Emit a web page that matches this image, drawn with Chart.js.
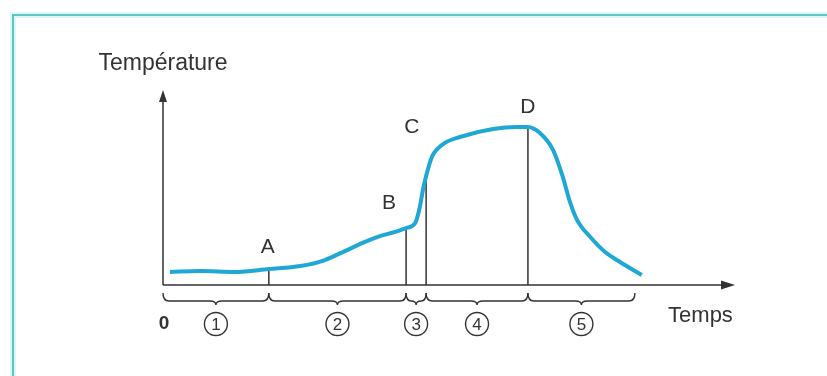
<!DOCTYPE html>
<html>
<head>
<meta charset="utf-8">
<script src="https://cdn.jsdelivr.net/npm/chart.js@4/dist/chart.umd.min.js"></script>
<style>
  html, body { margin: 0; padding: 0; background: #fff; }
  #wrap { width: 827px; height: 376px; }
</style>
</head>
<body>
<div id="wrap"><canvas id="chart" width="827" height="376"></canvas></div>
<script>
// curve (temps, température) in arbitrary units 0..100
const temps = [1.2, 6.5, 12.6, 18.5, 24.0, 28.3, 31.8, 34.8, 37.9, 40.6, 42.5, 44.1, 44.9, 45.5, 46.0,
  47.0, 49.0, 51.9, 57.7, 61.9, 63.8, 65.9, 68.2, 69.8, 71.2, 72.4, 74.7, 77.3, 79.9, 83.7]
const temperature = [6.7, 7.2, 6.7, 8.2, 9.7, 12.8, 17.4, 21.5, 25.1, 27.2, 29.2, 31.8, 40.0, 49.7, 55.9,
  65.6, 72.3, 75.9, 80.0, 81.0, 81.0, 77.9, 69.2, 56.4, 42.1, 33.3, 24.6, 16.9, 11.8, 5.1]

// points A B C D : vertical lines from the axis up to the curve
const pointNames = ['A', 'B', 'C', 'D']
const pointX = [18.5, 42.5, 46.0, 63.8]
const pointTop = [8.2, 29.2, 55.9, 81.0]
const nameX = [18.3, 39.5, 43.5, 63.8]
const nameY = [19.5, 42.0, 81.0, 91.3]

// phases under the time axis
const phaseBounds = [0, 18.5, 42.5, 46.0, 63.8, 82.5]
const phaseNames = ['1', '2', '3', '4', '5']

const ink = '#333333'
const font = '"Liberation Sans", Arial, sans-serif'

const datasets = [{
  data: temps.map((t, i) => ({x: t, y: temperature[i]})),
  borderColor: '#1fa8d4',
  borderWidth: 4,
  pointRadius: 0,
  cubicInterpolationMode: 'monotone'
}]
pointX.forEach((x, i) => {
  datasets.push({
    data: [{x: x, y: 0}, {x: x, y: pointTop[i]}],
    borderColor: ink,
    borderWidth: 1.5,
    pointRadius: 0
  })
})

function brace(ctx, x0, x1, top) {
  const r = Math.min(6, (x1 - x0) / 4)
  const xm = (x0 + x1) / 2
  const flat = top + 8, tip = top + 12
  ctx.beginPath()
  ctx.moveTo(x0, top)
  ctx.quadraticCurveTo(x0, flat, x0 + r, flat)
  ctx.lineTo(xm - r, flat)
  ctx.quadraticCurveTo(xm, flat, xm, tip)
  ctx.quadraticCurveTo(xm, flat, xm + r, flat)
  ctx.lineTo(x1 - r, flat)
  ctx.quadraticCurveTo(x1, flat, x1, top)
  ctx.stroke()
}

const decor = {
  id: 'decor',
  beforeDraw(chart) {
    const ctx = chart.ctx
    ctx.save()
    ctx.fillStyle = '#fff'
    ctx.fillRect(0, 0, chart.width, chart.height)
    // frame
    ctx.strokeStyle = '#dff6f6'
    ctx.lineWidth = 6
    ctx.beginPath()
    ctx.moveTo(13, chart.height); ctx.lineTo(13, 15); ctx.lineTo(chart.width, 15)
    ctx.stroke()
    ctx.strokeStyle = '#5fc4c4'
    ctx.lineWidth = 2
    ctx.stroke()
    ctx.restore()
  },
  afterDraw(chart) {
    const ctx = chart.ctx
    const xs = chart.scales.x, ys = chart.scales.y
    const x0 = xs.getPixelForValue(0), y0 = ys.getPixelForValue(0)
    const xEnd = xs.getPixelForValue(100), yEnd = ys.getPixelForValue(100)
    ctx.save()
    ctx.strokeStyle = ink
    ctx.fillStyle = ink
    ctx.lineWidth = 1.5
    // axes with arrows
    ctx.beginPath()
    ctx.moveTo(x0, y0); ctx.lineTo(xEnd - 10, y0)
    ctx.moveTo(x0, y0); ctx.lineTo(x0, yEnd + 8)
    ctx.stroke()
    ctx.beginPath()
    ctx.moveTo(xEnd, y0); ctx.lineTo(xEnd - 14, y0 - 4.5); ctx.lineTo(xEnd - 14, y0 + 4.5); ctx.closePath()
    ctx.moveTo(x0, yEnd); ctx.lineTo(x0 - 4, yEnd + 12); ctx.lineTo(x0 + 4, yEnd + 12); ctx.closePath()
    ctx.fill()

    // braces and circled phase numbers
    ctx.lineWidth = 1.4
    ctx.textAlign = 'center'
    ctx.textBaseline = 'middle'
    for (let i = 0; i < phaseNames.length; i++) {
      const a = xs.getPixelForValue(phaseBounds[i]), b = xs.getPixelForValue(phaseBounds[i + 1])
      brace(ctx, a, b, y0 + 8)
      const cx = (a + b) / 2, cy = y0 + 39
      ctx.beginPath()
      ctx.arc(cx, cy, 11.5, 0, Math.PI * 2)
      ctx.stroke()
      ctx.font = '17px ' + font
      ctx.fillText(phaseNames[i], cx, cy + 1)
    }

    ctx.font = 'bold 19px ' + font
    ctx.fillText('0', x0 + 1, y0 + 39)
    ctx.font = '21px ' + font
    pointNames.forEach((n, i) => {
      ctx.fillText(n, xs.getPixelForValue(nameX[i]), ys.getPixelForValue(nameY[i]))
    })
    ctx.font = '23px ' + font
    ctx.fillText('Température', x0, yEnd - 26)
    ctx.font = '22px ' + font
    ctx.textAlign = 'left'
    ctx.fillText('Temps', xs.getPixelForValue(88.3), y0 + 31)
    ctx.restore()
  }
}

new Chart(document.getElementById('chart'), {
  type: 'line',
  data: { datasets: datasets },
  options: {
    responsive: false,
    animation: false,
    layout: { padding: { left: 163, right: 92, top: 90, bottom: 91 } },
    plugins: { legend: { display: false }, tooltip: { enabled: false } },
    scales: {
      x: { type: 'linear', min: 0, max: 100, display: false },
      y: { min: 0, max: 100, display: false }
    }
  },
  plugins: [decor]
})
</script>
</body>
</html>
